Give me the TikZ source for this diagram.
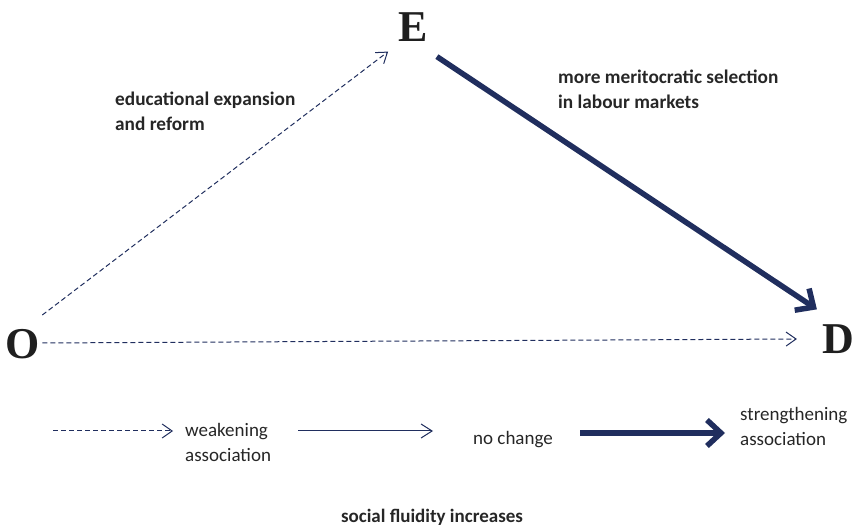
\documentclass[tikz,border=0pt]{standalone}
\usepackage{fontspec}
\setmainfont{Carlito}
\newfontfamily\letterfont{Liberation Serif}
\usetikzlibrary{arrows.meta, positioning}
\definecolor{navy}{RGB}{32,46,94}
\definecolor{textgray}{RGB}{38,38,38}

\begin{document}
\begin{tikzpicture}[x=1pt, y=-1pt, font=\fontsize{19}{25}\selectfont, text=textgray,
        var/.style={font=\letterfont\bfseries\fontsize{44}{44}\selectfont, text=black!88, inner sep=0pt},
        lbl/.style={align=left, inner sep=0pt, anchor=north west},
        weak/.style={navy, line width=1pt, dash pattern=on 5pt off 3pt, -{Straight Barb[length=10pt,width=14pt]}},
        nochange/.style={navy, line width=1pt, -{Straight Barb[length=11pt,width=14pt]}},
        strong/.style={navy, line width=5.5pt, -{Straight Barb[length=14pt,width=26pt]}}]
        \useasboundingbox (0,0) rectangle (855,529);

        % the three variables
        \node[var] (O) at (23,344) {O};
        \node[var] (E) at (413,27) {E};
        \node[var] (D) at (838,339) {D};

        \draw[weak] ([shift={(2,-14)}]O.north east) -- ([shift={(-10,10)}]E.south west);
        \draw[strong] ([shift={(9,15)}]E.south east) -- ([shift={(-5,-15)}]D.north west);
        \draw[weak] ([shift={(2,-1)}]O.east) -- ([xshift=-25pt]D.west);

        \node[lbl, font=\fontsize{19.3}{25}\selectfont\bfseries] (expansion) at (115,92) {educational expansion\\and reform};
        \node[lbl, font=\fontsize{19.3}{25}\selectfont\bfseries] (selection) at (558,70) {more meritocratic selection\\in labour markets};

        % legend
        \node[lbl] (weakening) at (185,423) {weakening\\association};
        \node[lbl] (same) at (473,431) {no change};
        \node[lbl] (strengthening) at (740,407) {strengthening\\association};
        \coordinate (w0) at (53,431);
        \coordinate (n0) at (298,431);
        \coordinate (s0) at (580,433);
        \draw[weak] (w0) -- ([xshift=-12pt]w0 -| weakening.west);
        \draw[nochange] (n0) -- ([xshift=-40pt]n0 -| same.west);
        \draw[strong] (s0) -- ([xshift=-15pt]s0 -| strengthening.west);

        \node[font=\fontsize{19}{25}\selectfont\bfseries] (fluidity) at (432,517) {social fluidity increases};
\end{tikzpicture}
\end{document}
